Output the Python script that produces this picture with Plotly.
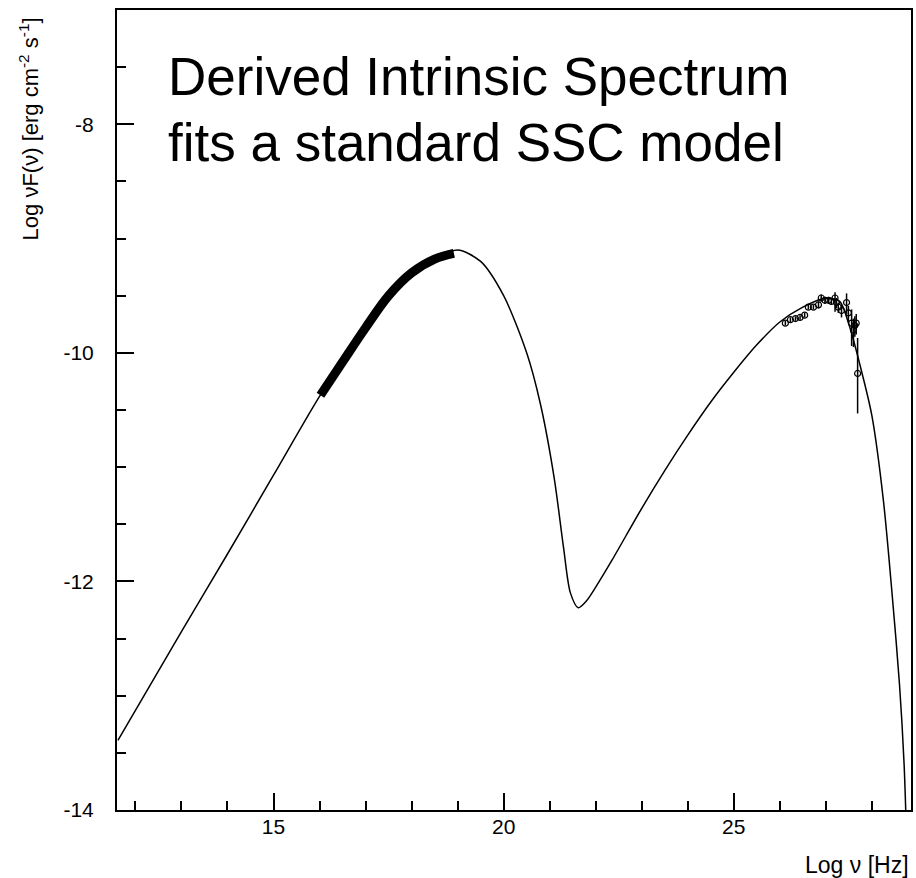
import plotly.graph_objects as go

# SSC model curve (log nu, log nuFnu)
model_x = [11.62, 13.0, 14.0, 15.0, 16.0, 16.5, 17.0, 17.5, 18.0, 18.5, 19.0, 19.5,
           20.0, 20.5, 20.8, 21.1, 21.3, 21.45, 21.62, 21.8, 22.0, 22.36, 23.0, 23.5,
           24.0, 24.5, 25.0, 25.5, 26.0, 26.5, 27.0, 27.3, 27.5, 27.8, 28.0, 28.25,
           28.45, 28.6, 28.7, 28.75]
model_y = [-13.39, -12.44, -11.76, -11.07, -10.38, -10.08, -9.78, -9.50, -9.30, -9.18,
           -9.10, -9.20, -9.50, -10.00, -10.45, -11.10, -11.70, -12.10, -12.23, -12.17,
           -12.05, -11.81, -11.36, -11.03, -10.72, -10.43, -10.17, -9.93, -9.73, -9.60,
           -9.52, -9.55, -9.75, -10.20, -10.55, -11.29, -12.16, -12.90, -13.60, -14.20]

# X-ray spectrum (thick band)
xray_x = [16.02, 16.5, 17.0, 17.5, 18.0, 18.5, 18.92]
xray_y = [-10.37, -10.08, -9.78, -9.50, -9.30, -9.18, -9.13]

# gamma-ray data points with error bars
gam_x = [26.12, 26.23, 26.34, 26.44, 26.54, 26.62, 26.73, 26.84, 26.90, 26.98, 27.06,
         27.12, 27.20, 27.23, 27.27, 27.34, 27.45, 27.49, 27.56, 27.60, 27.63, 27.66, 27.69]
gam_y = [-9.74, -9.71, -9.70, -9.69, -9.67, -9.60, -9.60, -9.58, -9.52, -9.54, -9.54,
         -9.55, -9.52, -9.56, -9.60, -9.63, -9.56, -9.65, -9.74, -9.80, -9.76, -9.74, -10.18]
gam_err_up = [0.02, 0.02, 0.02, 0.02, 0.02, 0.02, 0.02, 0.03, 0.03, 0.03, 0.03,
              0.03, 0.05, 0.04, 0.04, 0.05, 0.08, 0.06, 0.12, 0.10, 0.08, 0.08, 0.31]
gam_err_dn = [0.02, 0.02, 0.02, 0.02, 0.02, 0.02, 0.02, 0.03, 0.03, 0.03, 0.03,
              0.03, 0.12, 0.05, 0.05, 0.06, 0.10, 0.08, 0.20, 0.15, 0.10, 0.10, 0.35]

x_tickvals = [15, 20, 25]
x_ticktext = ["15", "20", "25"]
y_tickvals = [-14, -12, -10, -8]
y_ticktext = ["-14", "-12", "-10", "-8"]

fig = go.Figure()
fig.add_trace(go.Scatter(x=model_x, y=model_y, mode="lines",
                         line=dict(color="black", width=1.5, shape="spline", smoothing=0.8),
                         hoverinfo="skip"))
fig.add_trace(go.Scatter(x=xray_x, y=xray_y, mode="lines",
                         line=dict(color="black", width=9, shape="spline"),
                         hoverinfo="skip"))
fig.add_trace(go.Scatter(x=gam_x, y=gam_y, mode="markers",
                         marker=dict(symbol="circle-open", size=6, color="black",
                                     line=dict(width=1.2, color="black")),
                         error_y=dict(type="data", array=gam_err_up, arrayminus=gam_err_dn,
                                      color="black", thickness=1.5, width=0)))

font_main = "Liberation Sans, Arial, Helvetica, sans-serif"

fig.update_layout(
    width=916, height=878,
    margin=dict(l=117, r=3, t=10, b=68),
    paper_bgcolor="white", plot_bgcolor="white",
    showlegend=False,
    font=dict(family=font_main, size=21, color="black"),
    xaxis=dict(range=[11.6, 28.85], tickvals=x_tickvals, ticktext=x_ticktext,
               ticks="inside", ticklen=17,
               tickwidth=1.5, tickcolor="black", showline=True, linecolor="black",
               linewidth=2, mirror=True, showgrid=False, zeroline=False,
               minor=dict(dtick=1, tick0=0, ticks="inside", ticklen=9, tickwidth=1.5,
                          tickcolor="black", showgrid=False),
               ticklabelstandoff=-3, tickfont=dict(size=21)),
    yaxis=dict(range=[-14, -7], tickvals=y_tickvals, ticktext=y_ticktext,
               ticks="inside", ticklen=17,
               tickwidth=1.5, tickcolor="black", showline=True, linecolor="black",
               linewidth=2, mirror=True, showgrid=False, zeroline=False,
               minor=dict(dtick=0.5, tick0=0, ticks="inside", ticklen=9, tickwidth=1.5,
                          tickcolor="black", showgrid=False),
               ticklabelstandoff=17, tickfont=dict(size=21)),
    annotations=[
        dict(text="Derived Intrinsic Spectrum", xref="paper", yref="paper",
             x=0.062, y=0.9165, xanchor="left", yanchor="middle", showarrow=False,
             font=dict(size=53, family=font_main, color="black")),
        dict(text="fits a standard SSC model", xref="paper", yref="paper",
             x=0.062, y=0.8350, xanchor="left", yanchor="middle", showarrow=False,
             font=dict(size=53, family=font_main, color="black")),
        dict(text="Log \u03bdF(\u03bd) [erg cm<sup>-2</sup> s<sup>-1</sup>]", xref="paper",
             yref="paper", x=-0.1106, y=0.851, xanchor="center", yanchor="middle",
             textangle=-90, showarrow=False, font=dict(size=22, family=font_main)),
        dict(text="Log \u03bd [Hz]", xref="paper", yref="paper", x=1.0, y=-0.069,
             xanchor="right", yanchor="middle", showarrow=False,
             font=dict(size=23, family=font_main)),
    ],
)

fig.write_html("out.html")
